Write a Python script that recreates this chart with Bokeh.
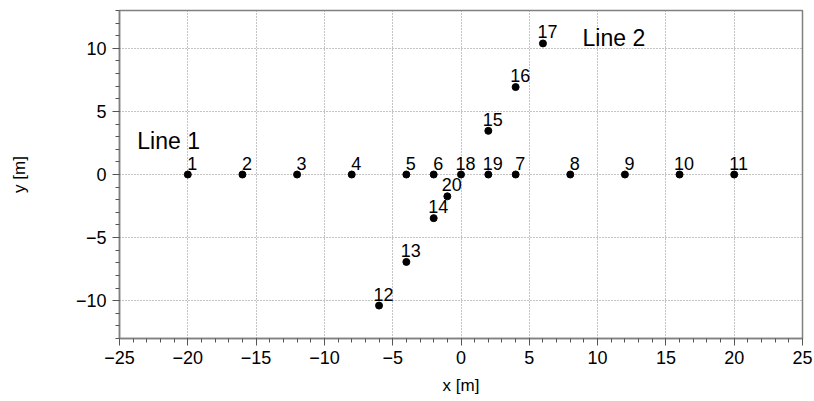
from bokeh.plotting import figure
from bokeh.models import ColumnDataSource, Range1d, SingleIntervalTicker, LabelSet, Label
from bokeh.core.properties import value
from bokeh.embed import file_html
from bokeh.resources import INLINE

# Electrode positions along two survey lines
point_ids = [str(i) for i in range(1, 21)]
x_pos = [-20, -16, -12, -8, -4, -2, 4, 8, 12, 16, 20,
         -6, -4, -2, 2, 4, 6, 0, 2, -1]
y_pos = [0, 0, 0, 0, 0, 0, 0, 0, 0, 0, 0,
         -10.39, -6.93, -3.46, 3.46, 6.93, 10.39, 0, 0, -1.73]

line_names = ["Line 1", "Line 2"]
line_label_x = [-23.7, 8.9]
line_label_y = [2.67, 10.84]

FONT = "Liberation Sans"

src = ColumnDataSource(data=dict(x=x_pos, y=y_pos, name=point_ids))

p = figure(width=814, height=401, output_backend="svg", toolbar_location=None,
           x_range=Range1d(-25, 25), y_range=Range1d(-13, 13),
           min_border_left=119, min_border_right=12, min_border_top=10,
           min_border_bottom=63, x_axis_label="x [m]", y_axis_label="y [m]")

p.outline_line_color = "#808080"
p.outline_line_width = 1.5

for ax in (p.xaxis[0], p.yaxis[0]):
    ax.ticker = SingleIntervalTicker(interval=5, num_minor_ticks=5)
    ax.axis_line_color = "#808080"
    ax.axis_line_width = 1.5
    ax.major_tick_line_color = "#555555"
    ax.minor_tick_line_color = "#555555"
    ax.major_tick_out = 7
    ax.major_tick_in = 0
    ax.minor_tick_out = 4
    ax.minor_tick_in = 0
    ax.major_label_text_font = FONT
    ax.major_label_text_font_size = "18px"
    ax.major_label_text_color = "black"
    ax.axis_label_text_font = FONT
    ax.axis_label_text_font_size = "17px"
    ax.axis_label_text_font_style = "normal"
    ax.axis_label_text_color = "black"

p.xaxis.major_label_standoff = 5
p.yaxis.major_label_standoff = 6
p.xaxis.axis_label_standoff = 9
p.yaxis.axis_label_standoff = 44

for g in (p.xgrid[0], p.ygrid[0]):
    g.ticker = SingleIntervalTicker(interval=5)
    g.grid_line_color = "#888888"
    g.grid_line_dash = "1 2"
    g.grid_line_width = 1

p.scatter("x", "y", source=src, size=7, color="black")

labels = LabelSet(x="x", y="y", text="name", source=src, x_offset=4.5, y_offset=5,
                  text_align="center", text_baseline="alphabetic",
                  text_font=value(FONT), text_font_size="18px", text_color="black")
p.add_layout(labels)

for name, lx, ly in zip(line_names, line_label_x, line_label_y):
    p.add_layout(Label(x=lx, y=ly, text=name, text_font=FONT,
                       text_font_size="23px", text_align="left",
                       text_baseline="alphabetic", text_color="black"))

open("out.html", "w").write(file_html(p, INLINE))
